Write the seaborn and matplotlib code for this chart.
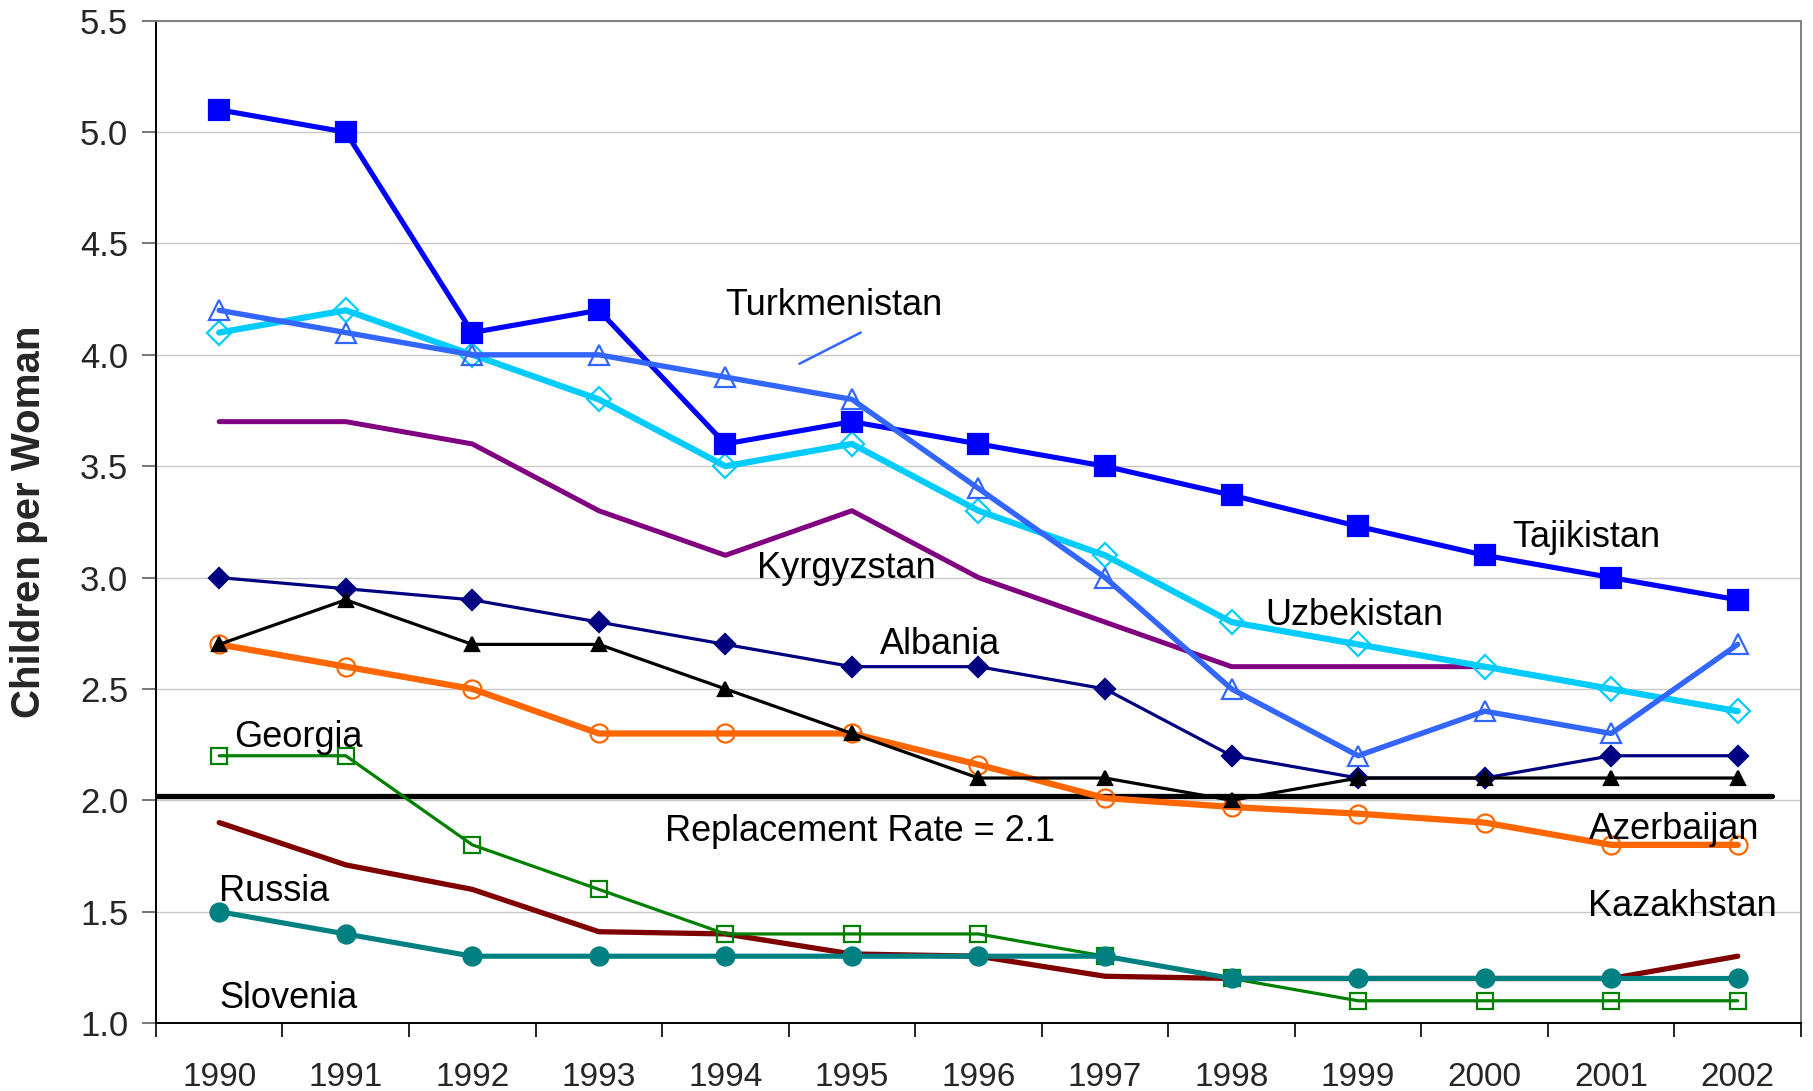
import matplotlib
matplotlib.use("Agg")
import matplotlib.pyplot as plt
from matplotlib.ticker import FixedLocator, FormatStrFormatter
import seaborn as sns
import pandas as pd

# Total fertility rate, children per woman
years = ["1990", "1991", "1992", "1993", "1994", "1995", "1996",
         "1997", "1998", "1999", "2000", "2001", "2002"]

kyrgyzstan = [3.7, 3.7, 3.6, 3.3, 3.1, 3.3, 3.0, 2.8, 2.6, 2.6, 2.6, 2.5, 2.4]
uzbekistan = [4.1, 4.2, 4.0, 3.8, 3.5, 3.6, 3.3, 3.1, 2.8, 2.7, 2.6, 2.5, 2.4]
tajikistan = [5.1, 5.0, 4.1, 4.2, 3.6, 3.7, 3.6, 3.5, 3.37, 3.23, 3.1, 3.0, 2.9]
turkmenistan = [4.2, 4.1, 4.0, 4.0, 3.9, 3.8, 3.4, 3.0, 2.5, 2.2, 2.4, 2.3, 2.7]
albania = [3.0, 2.95, 2.9, 2.8, 2.7, 2.6, 2.6, 2.5, 2.2, 2.1, 2.1, 2.2, 2.2]
azerbaijan = [2.7, 2.6, 2.5, 2.3, 2.3, 2.3, 2.16, 2.01, 1.97, 1.94, 1.9, 1.8, 1.8]
kazakhstan = [2.7, 2.9, 2.7, 2.7, 2.5, 2.3, 2.1, 2.1, 2.0, 2.1, 2.1, 2.1, 2.1]
russia = [1.9, 1.71, 1.6, 1.41, 1.4, 1.31, 1.3, 1.21, 1.2, 1.2, 1.2, 1.2, 1.3]
georgia = [2.2, 2.2, 1.8, 1.6, 1.4, 1.4, 1.4, 1.3, 1.2, 1.1, 1.1, 1.1, 1.1]
slovenia = [1.5, 1.4, 1.3, 1.3, 1.3, 1.3, 1.3, 1.3, 1.2, 1.2, 1.2, 1.2, 1.2]

replacement_rate = 2.02

sns.set_theme(style="white")
plt.rcParams["font.family"] = ["Liberation Sans", "DejaVu Sans"]

fig = plt.figure(figsize=(18.13, 10.91), dpi=100)
ax = fig.add_axes([0.086, 0.0623, 0.9074, 0.9187])

x = list(range(len(years)))

# name, values, colour, linewidth, marker, markersize, filled
series = [
    ("Kyrgyzstan", kyrgyzstan, "#800080", 3.6, None, 0, True),
    ("Uzbekistan", uzbekistan, "#00CCFF", 4.5, "D", 12, False),
    ("Tajikistan", tajikistan, "#0000FF", 3.7, "s", 14, True),
    ("Turkmenistan", turkmenistan, "#3366FF", 3.9, "^", 14, False),
    ("Albania", albania, "#000080", 2.3, "D", 10, True),
    ("Russia", russia, "#800000", 3.8, None, 0, True),
    ("Georgia", georgia, "#008000", 2.3, "s", 12, False),
    ("Slovenia", slovenia, "#008080", 3.7, "o", 13, True),
    ("Azerbaijan", azerbaijan, "#FF6600", 4.5, "o", 13, False),
    ("Kazakhstan", kazakhstan, "#000000", 2.3, "^", 10, True),
]

for name, vals, col, lw, mk, ms, filled in series:
    df = pd.DataFrame({"x": x, "y": vals})
    kw = dict(color=col, lw=lw)
    if mk is not None:
        kw.update(marker=mk, ms=ms, mec=col, mew=1.6,
                  mfc=col if filled else "none")
    sns.lineplot(data=df, x="x", y="y", ax=ax, **kw)

# replacement rate line
ax.plot([-0.5, 12.27], [replacement_rate, replacement_rate], color="black", lw=3.8, zorder=1.5)

# pointer line near the Turkmenistan label
ax.plot([4.585, 5.07], [3.96, 4.10], color="#3366FF", lw=1.8)

labels = [
    ("Turkmenistan", 4.0, 4.22),
    ("Tajikistan", 10.22, 3.18),
    ("Kyrgyzstan", 4.25, 3.04),
    ("Uzbekistan", 8.27, 2.83),
    ("Albania", 5.22, 2.70),
    ("Georgia", 0.12, 2.28),
    ("Replacement Rate = 2.1", 3.52, 1.86),
    ("Azerbaijan", 10.82, 1.87),
    ("Russia", 0.0, 1.59),
    ("Kazakhstan", 10.82, 1.525),
    ("Slovenia", 0.0, 1.11),
]
for txt, lx, ly in labels:
    ax.text(lx, ly, txt, fontsize=26, ha="left", va="center", color="black")

ax.set_xlim(-0.5, 12.5)
ax.set_ylim(1.0, 5.5)
ax.set_yticks([1.0 + 0.5 * i for i in range(10)])
ax.yaxis.set_major_formatter(FormatStrFormatter("%.1f"))
ax.grid(axis="y", color="#C8C8C8", lw=1.0)
ax.grid(axis="x", visible=False)

# category axis: tick marks between years, labels at centres
ax.xaxis.set_major_locator(FixedLocator([i - 0.5 for i in range(len(years) + 1)]))
ax.xaxis.set_minor_locator(FixedLocator(x))
ax.set_xticklabels([""] * (len(years) + 1))
ax.set_xticklabels(years, minor=True)
ax.tick_params(axis="x", which="major", direction="out", length=10, width=1.2,
               color="black", bottom=True)
ax.tick_params(axis="x", which="minor", length=0, pad=28, labelsize=24)
ax.tick_params(axis="y", direction="out", length=10, width=1.2, color="#606060",
               left=True, pad=10, labelsize=25)

ax.set_xlabel("")
ax.set_ylabel("Children per Woman", fontsize=29, fontweight="bold", va="center")
ax.yaxis.set_label_coords(-0.077, 0.5)

for side in ["left", "bottom"]:
    ax.spines[side].set_color("black")
    ax.spines[side].set_linewidth(1.4)
for side in ["top", "right"]:
    ax.spines[side].set_color("#808080")
    ax.spines[side].set_linewidth(1.4)

fig.savefig("out.png", dpi=100, facecolor="white")
